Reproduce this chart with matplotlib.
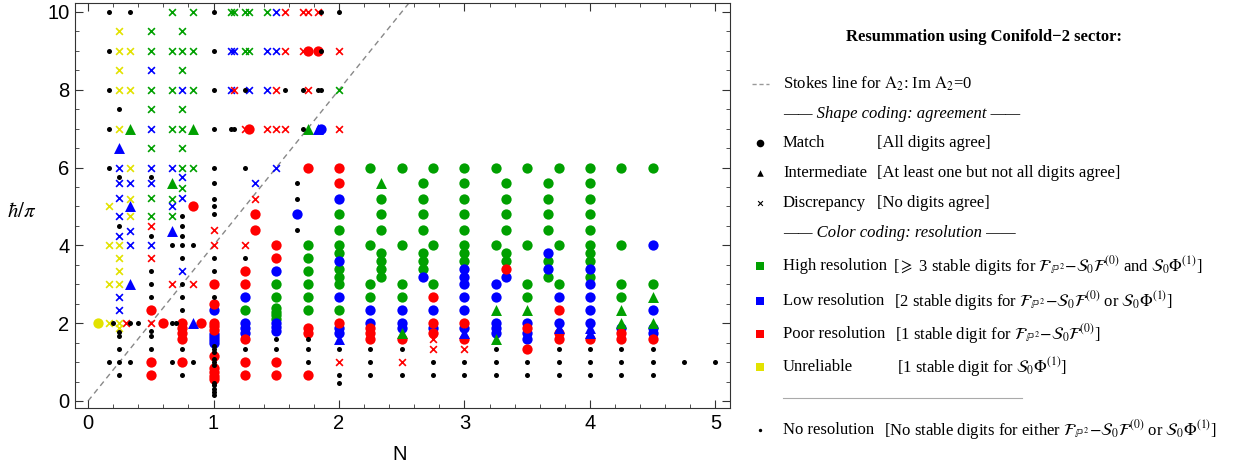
import matplotlib
matplotlib.use("Agg")
import matplotlib.pyplot as plt
import numpy as np

plt.rcParams["mathtext.fontset"] = "stix"

GREEN, BLUE, RED, YELLOW = "#00a000", "#0000ff", "#ff0000", "#e2e200"

# ---- data: {N: [hbar/pi, ...]} for every (colour, shape) class ----
green_circle = {
    1.25: [2.33],
    1.5: [3.0, 2.67, 2.4, 2.3, 2.2, 2.1],
    1.75: [4.0, 3.67, 3.33, 3.0, 2.67, 2.33],
    2.0: [4.8, 4.4, 4.0, 3.8, 3.4, 3.2, 3.0, 2.33],
    2.25: [6.0, 4.0, 3.0, 2.67],
    2.333: [5.2, 4.8, 4.4, 3.8, 3.6, 3.4, 3.2],
    2.5: [6.0, 4.0, 3.0, 2.67],
    2.667: [5.6, 5.2, 4.8, 4.4, 3.8, 3.6, 3.4],
    2.75: [6.0, 4.0, 3.0],
    3.0: [6.0, 5.6, 5.2, 4.8, 4.4, 4.0, 3.8, 3.6],
    3.25: [6.0, 4.0],
    3.333: [5.6, 5.2, 4.8, 4.4, 3.8, 3.6],
    3.5: [6.0, 4.0, 3.0, 2.67],
    3.667: [5.6, 5.2, 4.8, 4.4, 3.6, 3.2],
    3.75: [6.0, 4.0, 3.0],
    4.0: [6.0, 5.6, 5.2, 4.8, 4.4, 4.0, 3.8, 3.6, 3.2],
    4.25: [6.0, 4.0, 3.0, 2.67],
    4.5: [6.0, 3.0],
}
blue_circle = {
    1.0: [2.33, 1.73, 1.65, 1.57, 1.5],
    1.25: [2.67, 2.0, 1.87, 1.74],
    1.5: [3.33, 2.0, 1.9, 1.8],
    1.667: [4.8],
    1.857: [7.0],
    2.0: [5.2, 3.6, 2.67, 1.87, 1.74],
    2.25: [2.33, 2.0],
    2.5: [2.33, 2.0, 1.87],
    2.667: [3.2],
    2.75: [2.33, 1.87],
    3.0: [3.4, 3.2, 3.0, 2.67, 2.33, 1.87],
    3.25: [3.0, 2.67, 2.0, 1.87, 1.74],
    3.333: [3.2],
    3.5: [2.0, 1.74, 1.6],
    3.667: [3.8, 3.4],
    3.75: [2.67, 2.0],
    4.0: [3.4, 3.0, 2.67, 2.33, 2.0],
    4.25: [1.87],
    4.5: [4.0, 2.33, 1.87, 1.74],
}
red_circle = {
    0.5: [2.33, 1.0, 0.67],
    0.6: [2.0],
    0.75: [2.0, 1.87, 1.74, 1.6, 1.0],
    0.833: [5.0],
    0.9: [2.0],
    1.0: [3.0, 2.5, 2.0, 1.92, 1.83, 1.15, 0.85, 0.75, 0.65, 0.57],
    1.25: [3.33, 3.0, 1.6, 1.0, 0.67],
    1.286: [7.0],
    1.333: [4.8, 4.4],
    1.5: [4.0, 3.67, 1.0, 0.67],
    1.75: [9.0, 6.0, 1.87, 1.74, 0.67],
    1.833: [9.0],
    2.0: [6.0, 5.6, 2.0],
    2.25: [1.87, 1.74, 1.6],
    2.5: [1.6],
    2.75: [2.67, 2.0, 1.74],
    3.0: [2.0, 1.6],
    3.333: [3.4],
    3.5: [1.87, 1.33],
    3.75: [2.33, 1.74, 1.6],
    4.0: [1.6],
    4.25: [1.74, 1.6],
    4.5: [1.6],
}
yellow_circle = {0.083: [2.0]}

green_tri = {
    0.333: [7.0], 0.667: [5.6], 0.833: [7.0], 1.75: [7.0], 2.333: [5.6],
    2.5: [1.74], 3.25: [2.33, 1.6], 3.5: [2.33], 4.25: [2.33, 2.0],
    4.5: [2.67, 2.0],
}
blue_tri = {
    0.25: [6.5], 0.333: [5.0, 3.0], 0.667: [4.37], 0.833: [2.0],
    1.833: [7.0], 2.0: [1.6], 3.0: [1.74], 3.75: [1.87], 4.0: [1.87, 1.74],
}

green_x = {
    0.5: [9.5, 9.0, 8.0, 7.5, 6.5, 5.23, 4.76],
    0.667: [10.0, 9.0, 8.0, 7.0, 5.18, 4.76],
    0.75: [9.5, 9.0, 8.5, 7.5, 7.0, 6.5, 6.0, 5.48],
    0.833: [10.0, 9.0, 8.0, 6.0],
    1.143: [10.0], 1.167: [10.0],
    1.25: [10.0, 9.0], 1.286: [10.0, 9.0],
    1.429: [10.0], 2.0: [8.0],
}
blue_x = {
    0.25: [6.0, 5.6, 5.23, 4.76, 4.25, 2.67, 2.33],
    0.333: [5.6, 4.37, 4.0],
    0.5: [8.5, 7.0, 6.0, 5.6, 4.0],
    0.667: [6.0, 5.0],
    0.75: [8.0, 5.76, 5.23, 3.34],
    1.143: [9.0, 8.0], 1.167: [9.0], 1.286: [8.0], 1.333: [5.6],
    1.429: [9.0, 8.0], 1.5: [10.0, 9.0, 6.0],
}
red_x = {
    0.3: [2.0], 0.5: [4.5, 3.67, 2.0], 0.667: [3.0], 0.833: [3.0],
    1.0: [4.4, 4.0], 1.167: [8.0], 1.25: [7.0, 4.0], 1.333: [5.2],
    1.429: [7.0], 1.5: [8.0, 7.0], 1.571: [10.0, 9.0, 7.0],
    1.714: [10.0, 9.0], 1.75: [10.0, 8.0], 1.833: [10.0],
    2.0: [9.0, 7.0, 1.0], 2.5: [1.0], 2.75: [1.6, 1.33], 3.0: [1.33],
}
yellow_x = {
    0.167: [5.0, 4.0, 3.0, 2.0],
    0.25: [9.5, 9.0, 8.5, 8.0, 7.0, 4.0, 3.67, 3.33, 3.0, 2.0, 1.87],
    0.333: [9.0, 8.0, 6.0, 5.2, 4.76],
}
black_dot = {
    0.167: [10, 9, 8, 7, 6, 1.0],
    0.2: [2.0],
    0.25: [7.5, 5.76, 4.5, 1.77, 1.67, 1.34, 1.0, 0.67],
    0.333: [10, 2.0, 1.0],
    0.4: [2.0],
    0.5: [5.76, 4.24, 3.34, 3.0, 2.67, 1.8, 1.67, 1.34],
    0.667: [4.0, 2.0, 1.0],
    0.7: [2.0],
    0.75: [4.76, 4.5, 4.24, 4.0, 3.67, 3.0, 2.67, 2.34, 1.34, 0.67],
    0.833: [4.0, 1.0],
    1.0: [10, 9, 8, 7, 6, 5.6, 5.2, 5.0, 4.8, 3.67, 3.34, 2.67, 1.42, 1.33,
          1.25, 1.08, 1.0, 0.93, 0.47, 0.4, 0.32, 0.24, 0.16],
    1.143: [7.0], 1.167: [7.0],
    1.25: [8.0, 6.0, 3.67, 1.34],
    1.5: [1.6, 1.34],
    1.571: [8.0],
    1.667: [5.6, 5.2, 4.4],
    1.714: [8.0, 7.0],
    1.75: [1.6, 1.34, 1.0],
    1.833: [8.0],
    1.857: [10, 9, 8],
    2.0: [10, 1.34, 0.67, 0.47],
    2.25: [1.34, 1.0, 0.67], 2.5: [1.34, 0.67], 2.75: [1.0, 0.67],
    3.0: [1.0, 0.67], 3.25: [1.34, 1.0, 0.67], 3.5: [1.0, 0.67],
    3.75: [1.34, 1.0, 0.67], 4.0: [1.34, 1.0, 0.67],
    4.25: [1.34, 1.0, 0.67], 4.5: [1.34, 1.0, 0.67],
    4.75: [1.0], 5.0: [1.0],
}

# Stokes line Im A2 = 0 (straight line through the origin)
stokes_N = [0.0, 2.6]
stokes_h = [0.0, 10.4]


def expand(d):
    xs, ys = [], []
    for n, hs in d.items():
        xs += [n] * len(hs)
        ys += list(hs)
    return np.array(xs, float), np.array(ys, float)


fig = plt.figure(figsize=(12.34, 4.70), dpi=100)
ax = fig.add_axes([75 / 1234, 62 / 470, 655 / 1234, 405 / 470])

ax.plot(stokes_N, stokes_h, ls=(0, (4, 3)), color="#888888", lw=1, zorder=1)

for d, col in ((green_circle, GREEN), (blue_circle, BLUE),
               (red_circle, RED), (yellow_circle, YELLOW)):
    x, y = expand(d)
    ax.scatter(x, y, s=55, c=col, marker="o", lw=0, zorder=3)
for d, col in ((green_tri, GREEN), (blue_tri, BLUE)):
    x, y = expand(d)
    ax.scatter(x, y, s=62, c=col, marker="^", lw=0, zorder=3)
for d, col in ((green_x, GREEN), (blue_x, BLUE), (red_x, RED),
               (yellow_x, YELLOW)):
    x, y = expand(d)
    ax.scatter(x, y, s=24, c=col, marker="x", lw=1.2, zorder=3)
x, y = expand(black_dot)
ax.scatter(x, y, s=13, c="black", marker="o", lw=0, zorder=4)

ax.set_xlim(-0.104, 5.116)
ax.set_ylim(-0.18, 10.23)
ax.set_xticks(range(6))
ax.set_xticks(np.arange(0, 5.01, 0.2), minor=True)
ax.set_yticks(range(0, 11, 2))
ax.set_yticks(np.arange(0, 10.01, 0.5), minor=True)
ax.tick_params(which="both", direction="in", top=True, right=True,
               color="#333333", labelsize=14.5, pad=4)
ax.tick_params(which="major", length=5.5)
ax.tick_params(which="minor", length=2.8)
for lab in ax.get_xticklabels() + ax.get_yticklabels():
    lab.set_family("Liberation Sans")
for sp in ax.spines.values():
    sp.set_color("#333333")

fig.text(400 / 1234, 1 - 455 / 470, "N", ha="center", va="center", size=14.5,
         family="Liberation Sans")
fig.text(22 / 1234, 1 - 211 / 470, r"$\hbar/\pi$", ha="center", va="center",
         size=15)

# ---- hand-made legend on the right ----
lax = fig.add_axes([0, 0, 1, 1])
lax.set_xlim(0, 1234)
lax.set_ylim(470, 0)
lax.axis("off")
serif = "Liberation Serif"
fs = 12

lax.text(984, 37, "Resummation using Conifold\u22122 sector:", ha="center",
         va="center", family=serif, size=fs, weight="bold")

F = r"\mathcal{F}_{\mathbb{P}^2}{-}\mathcal{S}_0\mathcal{F}^{(0)}"
P = r"\mathcal{S}_0\Phi^{(1)}"

lax.plot([752, 769], [84, 84], ls=(0, (3, 2)), color="#999999", lw=1)
lax.text(783, 84, r"Stokes line for $\mathrm{A}_2$: Im $\mathrm{A}_2$=0",
         va="center", family=serif, size=fs)
lax.text(783, 114, "—— Shape coding: agreement ——", va="center",
         family=serif, size=fs, style="italic")

shape_rows = [(143, "o", 30, "Match", "[All digits agree]"),
              (173, "^", 22, "Intermediate", "[At least one but not all digits agree]"),
              (203, "x", 12, "Discrepancy", "[No digits agree]")]
for yy, mk, ss, name, desc in shape_rows:
    lax.scatter([760], [yy], s=ss, c="black", marker=mk,
                lw=0.8 if mk == "x" else 0)
    lax.text(783, yy, name, va="center", family=serif, size=fs)
    lax.text(877, yy, desc, va="center", family=serif, size=fs)

lax.text(783, 233, "—— Color coding: resolution ——", va="center",
         family=serif, size=fs, style="italic")

color_rows = [
    (266, GREEN, "High resolution", 893,
     r"[$\geqslant$ 3 stable digits for $%s$ and $%s$]" % (F, P)),
    (301, BLUE, "Low resolution", 894,
     r"[2 stable digits for $%s$ or $%s$]" % (F, P)),
    (334, RED, "Poor resolution", 895, r"[1 stable digit for $%s$]" % F),
    (367, YELLOW, "Unreliable", 897, r"[1 stable digit for $%s$]" % P),
]
for yy, col, name, bx, desc in color_rows:
    lax.scatter([760], [yy], s=26, c=col, marker="s", lw=0)
    lax.text(783, yy, name, va="center", family=serif, size=fs)
    lax.text(bx, yy, desc, va="center", family=serif, size=fs)

lax.plot([783, 1022], [398, 398], color="#aaaaaa", lw=0.8)
lax.scatter([760], [430], s=6, c="black", marker="o", lw=0)
lax.text(783, 430, "No resolution", va="center", family=serif, size=fs)
lax.text(884, 430, r"[No stable digits for either $%s$ or $%s$]" % (F, P),
         va="center", family=serif, size=fs)

fig.savefig("out.png", dpi=100)
